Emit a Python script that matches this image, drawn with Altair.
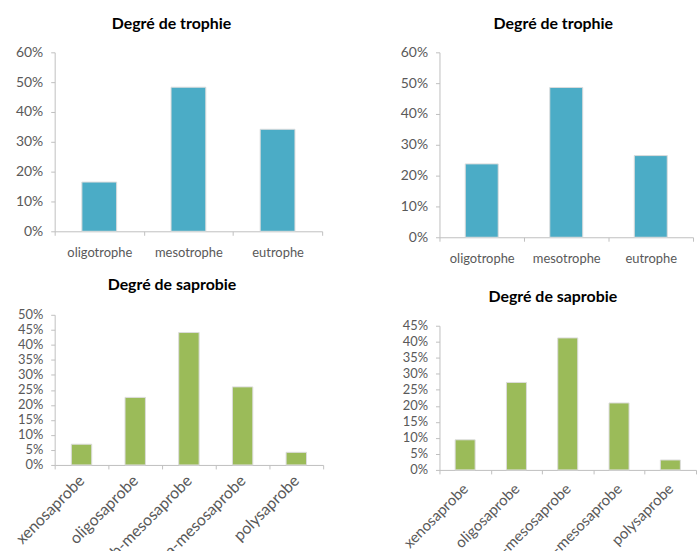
import altair as alt
import pandas as pd

# Trophic level shares (two sites)
trophie_cats = ["oligotrophe", "mesotrophe", "eutrophe"]
trophie_a = [0.165, 0.483, 0.342]
trophie_b = [0.238, 0.486, 0.265]

# Saprobic level shares (two sites)
saprobie_cats = ["xenosaprobe", "oligosaprobe", "b-mesosaprobe", "a-mesosaprobe", "polysaprobe"]
saprobie_a = [0.069, 0.225, 0.441, 0.260, 0.042]
saprobie_b = [0.094, 0.273, 0.412, 0.209, 0.031]

TEAL = "#4BACC6"
GREEN = "#9BBB59"
FONT = "Lato"


def panel(cats, vals, color, title, ymax, step, width, height, dx, toff,
          label_angle, label_size, band, ylabel_size, xpad):
    df = pd.DataFrame({"cat": cats, "val": vals})
    ticks = [round(i * step, 4) for i in range(int(round(ymax / step)) + 1)]
    common = dict(
        title=None, labelFontSize=label_size, labelFont=FONT,
        labelColor="#595959", tickBand="extent", domainColor="#bfbfbf",
        tickColor="#bfbfbf", tickSize=4, grid=False, labelPadding=xpad,
    )
    if label_angle:
        x_axis = alt.Axis(labelAngle=label_angle, labelAlign="right",
                          labelBaseline="middle", **common)
    else:
        x_axis = alt.Axis(labelAngle=0, **common)
    return (
        alt.Chart(df)
        .mark_bar(color=color, width=alt.RelativeBandSize(band),
                  stroke="#dcdcdc", strokeWidth=1)
        .encode(
            x=alt.X("cat:N", sort=cats,
                    scale=alt.Scale(paddingInner=0, paddingOuter=0),
                    axis=x_axis),
            y=alt.Y("val:Q",
                    scale=alt.Scale(domain=[0, ymax], nice=False),
                    axis=alt.Axis(
                        title=None, format=".0%", values=ticks,
                        labelFont=FONT, labelFontSize=ylabel_size,
                        labelColor="#595959", domainColor="#bfbfbf",
                        tickColor="#bfbfbf", tickSize=4, labelPadding=8,
                        grid=False, labelOverlap=False,
                    )),
        )
        .properties(
            width=width, height=height,
            title=alt.TitleParams(
                text=title, font=FONT, fontSize=16, fontWeight="bold",
                color="#000000", anchor="middle", dx=dx, offset=toff,
            ),
        )
    )


tl = panel(trophie_cats, trophie_a, TEAL, "Degré de trophie", 0.6, 0.1,
           269, 180, -17, 13, 0, 13, 0.39, 14, 11)
tr = panel(trophie_cats, trophie_b, TEAL, "Degré de trophie", 0.6, 0.1,
           255, 186, -13, 13, 0, 13, 0.39, 14, 11)
bl = panel(saprobie_cats, saprobie_a, GREEN, "Degré de saprobie", 0.5, 0.05,
           270, 151, -17, 16, 315, 16, 0.38, 13, 9)
br = panel(saprobie_cats, saprobie_b, GREEN, "Degré de saprobie", 0.45, 0.05,
           258, 145, -15, 15, 315, 15, 0.39, 13, 12)

left = alt.vconcat(tl, bl, spacing=18)
right = alt.vconcat(tr, br, spacing=24)

chart = (
    alt.hconcat(left, right, spacing=76)
    .properties(
        padding={"left": 12, "top": 15, "right": 0, "bottom": 0},
        background="white",
    )
    .configure_view(stroke="transparent", strokeWidth=0)
)

chart.save("out.html", embed_options={"renderer": "svg", "actions": False})
